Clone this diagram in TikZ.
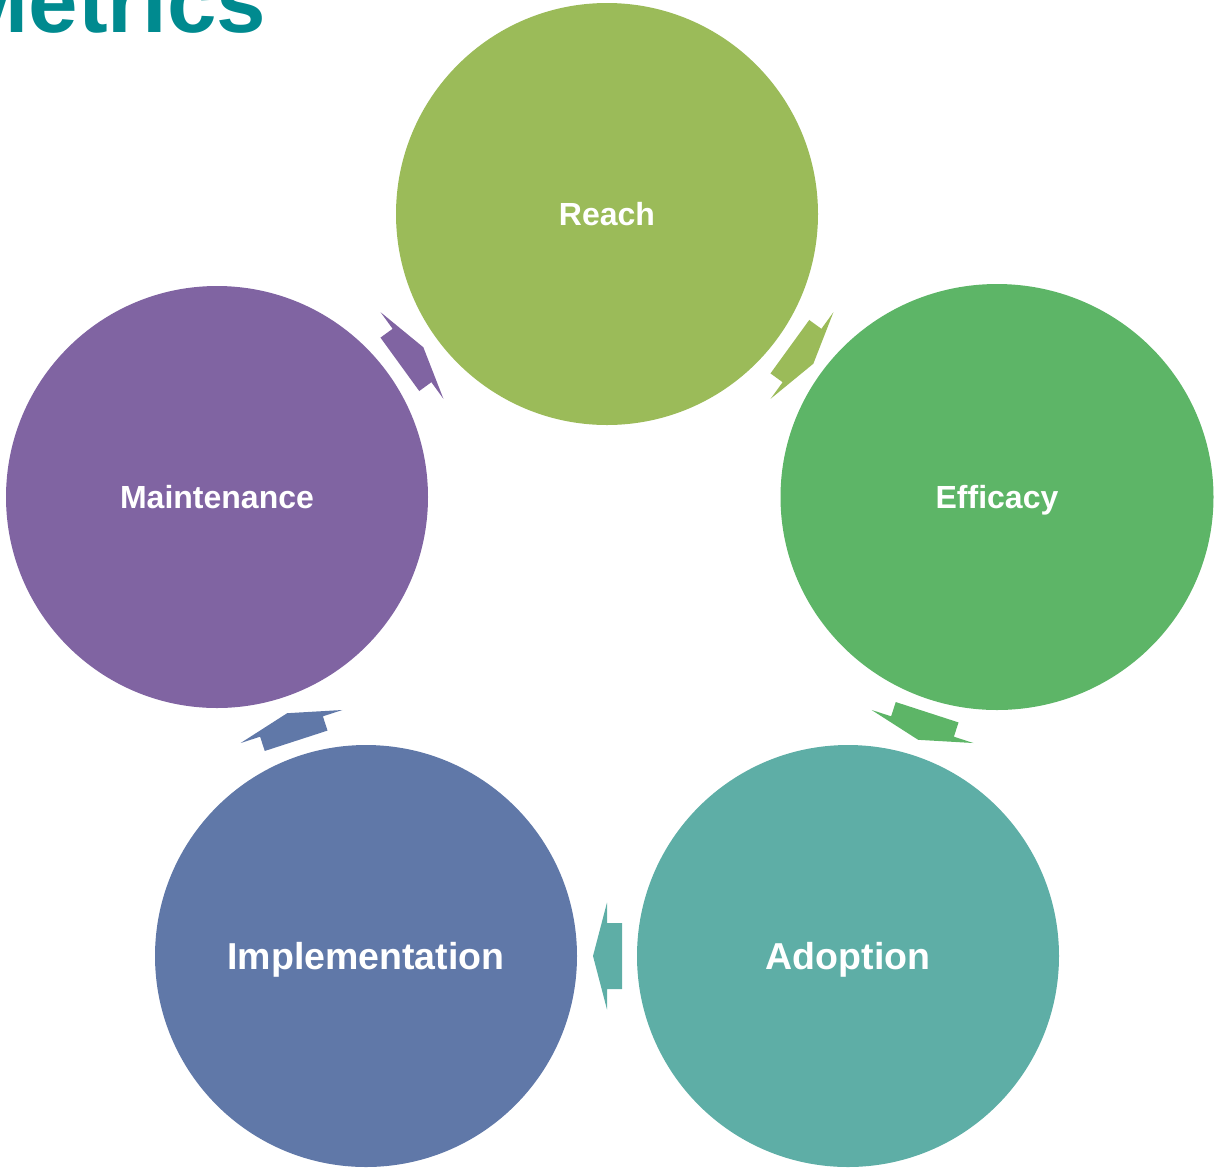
\documentclass[tikz,border=0pt]{standalone}
\usepackage{fontspec}
\setmainfont{Liberation Sans}
\usepackage{tikz}
\usetikzlibrary{positioning,calc,shapes.geometric}
\definecolor{reachc}{HTML}{9BBB59}
\definecolor{effc}{HTML}{5DB567}
\definecolor{adoptc}{HTML}{5EAEA6}
\definecolor{implc}{HTML}{6078A8}
\definecolor{maintc}{HTML}{8064A2}
\definecolor{titlec}{HTML}{008A8F}

\begin{document}
\begin{tikzpicture}[x=1pt,y=-1pt,
    stage/.style={circle,inner sep=0,minimum size=422pt,text=white,
      text height=22.9pt,text depth=0pt,font=\bfseries\fontsize{32}{38}\selectfont},
    bigstage/.style={stage,text height=26.8pt,font=\bfseries\fontsize{37.5}{44}\selectfont}]
  \useasboundingbox (0,0) rectangle (1215,1168);
  \node[anchor=base west,inner sep=0,text=titlec,font=\bfseries\fontsize{89}{96}\selectfont] (title) at (-45.5,32) {Metrics};
  % five stages on a pentagon round (607,624)
  \node[stage,fill=reachc] (reach) at (607,214) {Reach};
  \node[stage,ellipse,minimum width=433pt,minimum height=426pt,fill=effc] (efficacy) at (997,497) {Efficacy};
  \node[bigstage,fill=adoptc] (adoption) at (848,956) {Adoption};
  \node[bigstage,fill=implc] (impl) at (366,956) {Implementation};
  \node[stage,fill=maintc] (maint) at (217,497) {Maintenance};
  % block arrow halfway between two stages, pointing at the second
  \def\turn#1#2#3{
    \coordinate (#1-#2) at ($(#1)!0.5!(#2)$);
    \coordinate (#1-#2t) at ($(#1-#2)!15pt!180:(#2)$);
    \fill[#3] ($(#1-#2t)!33pt!90:(#2)$) -- ($(#1-#2)!33pt!90:(#2)$) -- ($(#1-#2)!53.5pt!90:(#2)$)
      -- ($(#1-#2)!14pt!(#2)$)
      -- ($(#1-#2)!53.5pt!-90:(#2)$) -- ($(#1-#2)!33pt!-90:(#2)$) -- ($(#1-#2t)!33pt!-90:(#2)$) -- cycle;}
  \turn{reach}{efficacy}{reachc}
  \turn{efficacy}{adoption}{effc}
  \turn{adoption}{impl}{adoptc}
  \turn{impl}{maint}{implc}
  \turn{maint}{reach}{maintc}
\end{tikzpicture}
\end{document}
